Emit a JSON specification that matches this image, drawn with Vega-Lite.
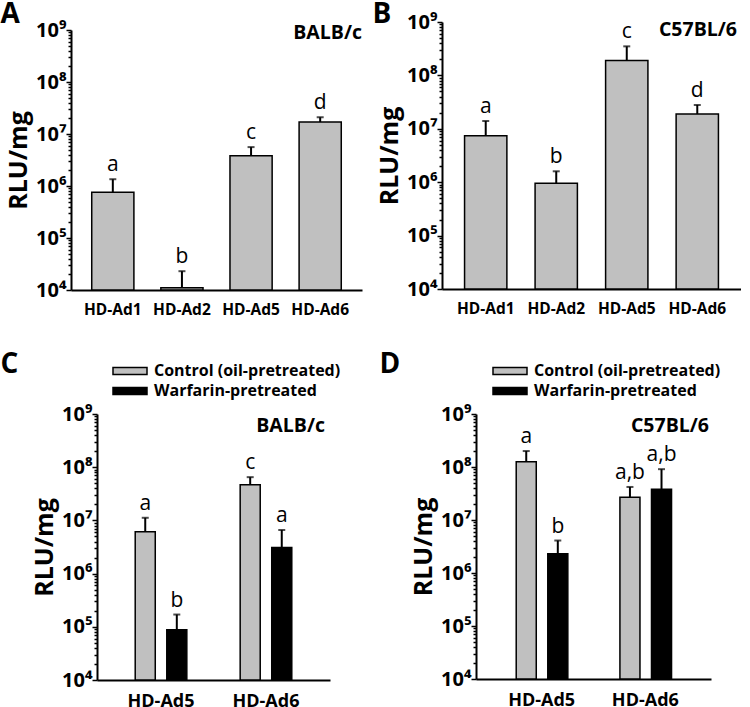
{
  "$schema": "https://vega.github.io/schema/vega-lite/v6.json",
  "padding": {"top": 1, "left": 0, "right": 0, "bottom": 0},
  "background": "white",
  "config": {
    "font": "Open Sans",
    "view": {"stroke": null},
    "axis": {"domainColor": "black", "domainWidth": 2, "tickColor": "black", "tickWidth": 1.5, "labelColor": "black", "titleColor": "black", "grid": false, "labelFlush": false},
    "title": {"color": "black"},
    "legend": {"labelColor": "black"}
  },
  "resolve": {"legend": {"color": "independent"}, "scale": {"color": "independent"}},
  "columns": 2,
  "align": "each",
  "spacing": {"row": 33, "column": 10},
  "concat": [
    {
      "width": 291, "height": 268,
      "title": {"text": "A", "anchor": "start", "frame": "bounds", "fontSize": 28, "fontWeight": "bold", "offset": -9, "dx": -6},
      "data": {"values": [
        {"vector": "HD-Ad1", "mean": 760000, "upper": 1350000, "letter": "a"},
        {"vector": "HD-Ad2", "mean": 11000, "upper": 23000, "letter": "b"},
        {"vector": "HD-Ad5", "mean": 3800000, "upper": 5600000, "letter": "c"},
        {"vector": "HD-Ad6", "mean": 17000000, "upper": 21000000, "letter": "d"}
      ]},
      "encoding": {
        "x": {"field": "vector", "type": "nominal", "sort": null, "scale": {"paddingInner": 0.39, "paddingOuter": 0.3},
              "axis": {"title": null, "labelAngle": 0, "ticks": false, "labelFontSize": 15.5, "labelFontWeight": "bold", "labelPadding": 12}}
      },
      "layer": [
        {"mark": {"type": "bar", "fill": "#c0c0c0", "stroke": "black", "strokeWidth": 1.5},
         "encoding": {
           "y": {"field": "mean", "type": "quantitative", "scale": {"type": "log", "domain": [10000, 1000000000], "nice": false, "range": [268, 8]},
                 "axis": {"title": "RLU/mg", "titleFontSize": 25, "titleFontWeight": "bold", "titlePadding": 4,
                          "values": [10000,20000,30000,40000,50000,60000,70000,80000,90000,100000,200000,300000,400000,500000,600000,700000,800000,900000,1000000,2000000,3000000,4000000,5000000,6000000,7000000,8000000,9000000,10000000,20000000,30000000,40000000,50000000,60000000,70000000,80000000,90000000,100000000,200000000,300000000,400000000,500000000,600000000,700000000,800000000,900000000,1000000000],
                          "tickSize": {"condition": {"test": "abs(log(datum.value)/LN10 - round(log(datum.value)/LN10)) < 0.000001", "value": 5}, "value": 3},
                          "labelExpr": "abs(log(datum.value)/LN10 - round(log(datum.value)/LN10)) < 0.000001 ? '10' + ['⁰','¹','²','³','⁴','⁵','⁶','⁷','⁸','⁹'][round(log(datum.value)/LN10)] : ''",
                          "labelFontSize": 20, "labelFontWeight": "bold", "labelPadding": 0, "labelOverlap": false}},
           "y2": {"datum": 10000}
         }},
        {"mark": {"type": "rule", "strokeWidth": 2, "color": "black"},
         "encoding": {"y": {"field": "mean", "type": "quantitative"}, "y2": {"field": "upper"}}},
        {"mark": {"type": "tick", "color": "black", "size": 7, "thickness": 2},
         "encoding": {"y": {"field": "upper", "type": "quantitative"}}},
        {"mark": {"type": "text", "baseline": "bottom", "dy": -4, "fontSize": 21, "color": "black"},
         "encoding": {"y": {"field": "upper", "type": "quantitative"}, "text": {"field": "letter"}}},
        {"data": {"values": [{"s": "BALB/c"}]},
         "mark": {"type": "text", "align": "right", "baseline": "middle", "fontSize": 19.5, "fontWeight": "bold", "color": "black"},
         "encoding": {"x": {"value": "width"}, "y": {"datum": 880000000}, "text": {"field": "s"}}}
      ]
    },
    {
      "width": 299, "height": 267,
      "title": {"text": "B", "anchor": "start", "frame": "bounds", "fontSize": 28, "fontWeight": "bold", "offset": -17, "dx": -5},
      "data": {"values": [
        {"vector": "HD-Ad1", "mean": 7400000, "upper": 14000000, "letter": "a"},
        {"vector": "HD-Ad2", "mean": 960000, "upper": 1600000, "letter": "b"},
        {"vector": "HD-Ad5", "mean": 190000000, "upper": 350000000, "letter": "c"},
        {"vector": "HD-Ad6", "mean": 19000000, "upper": 28000000, "letter": "d"}
      ]},
      "encoding": {
        "x": {"field": "vector", "type": "nominal", "sort": null, "scale": {"paddingInner": 0.4, "paddingOuter": 0.32},
              "axis": {"title": null, "labelAngle": 0, "ticks": false, "labelFontSize": 15.5, "labelFontWeight": "bold", "labelPadding": 12}}
      },
      "layer": [
        {"mark": {"type": "bar", "fill": "#c0c0c0", "stroke": "black", "strokeWidth": 1.5},
         "encoding": {
           "y": {"field": "mean", "type": "quantitative", "scale": {"type": "log", "domain": [10000, 1000000000], "nice": false},
                 "axis": {"title": "RLU/mg", "titleFontSize": 25, "titleFontWeight": "bold", "titlePadding": 4,
                          "values": [10000,20000,30000,40000,50000,60000,70000,80000,90000,100000,200000,300000,400000,500000,600000,700000,800000,900000,1000000,2000000,3000000,4000000,5000000,6000000,7000000,8000000,9000000,10000000,20000000,30000000,40000000,50000000,60000000,70000000,80000000,90000000,100000000,200000000,300000000,400000000,500000000,600000000,700000000,800000000,900000000,1000000000],
                          "tickSize": {"condition": {"test": "abs(log(datum.value)/LN10 - round(log(datum.value)/LN10)) < 0.000001", "value": 5}, "value": 3},
                          "labelExpr": "abs(log(datum.value)/LN10 - round(log(datum.value)/LN10)) < 0.000001 ? '10' + ['⁰','¹','²','³','⁴','⁵','⁶','⁷','⁸','⁹'][round(log(datum.value)/LN10)] : ''",
                          "labelFontSize": 20, "labelFontWeight": "bold", "labelPadding": 0, "labelOverlap": false}},
           "y2": {"datum": 10000}
         }},
        {"mark": {"type": "rule", "strokeWidth": 2, "color": "black"},
         "encoding": {"y": {"field": "mean", "type": "quantitative"}, "y2": {"field": "upper"}}},
        {"mark": {"type": "tick", "color": "black", "size": 7, "thickness": 2},
         "encoding": {"y": {"field": "upper", "type": "quantitative"}}},
        {"mark": {"type": "text", "baseline": "bottom", "dy": -4, "fontSize": 21, "color": "black"},
         "encoding": {"y": {"field": "upper", "type": "quantitative"}, "text": {"field": "letter"}}},
        {"data": {"values": [{"s": "C57BL/6"}]},
         "mark": {"type": "text", "align": "right", "baseline": "middle", "fontSize": 19.5, "fontWeight": "bold", "color": "black", "dx": -4},
         "encoding": {"x": {"value": "width"}, "y": {"datum": 710000000}, "text": {"field": "s"}}}
      ]
    },
    {
      "width": 259, "height": 266,
      "title": {"text": "C", "anchor": "start", "frame": "bounds", "fontSize": 28, "fontWeight": "bold", "offset": -16, "dx": -32},
      "data": {"values": [
        {"vector": "HD-Ad5", "treatment": "Control (oil-pretreated)", "mean": 6100000, "upper": 11200000, "letter": "a"},
        {"vector": "HD-Ad5", "treatment": "Warfarin-pretreated", "mean": 88000, "upper": 170000, "letter": "b"},
        {"vector": "HD-Ad6", "treatment": "Control (oil-pretreated)", "mean": 47000000, "upper": 65000000, "letter": "c"},
        {"vector": "HD-Ad6", "treatment": "Warfarin-pretreated", "mean": 3100000, "upper": 6600000, "letter": "a"}
      ]},
      "encoding": {
        "x": {"field": "vector", "type": "nominal", "sort": null, "scale": {"paddingInner": 0.4, "paddingOuter": 0.31, "range": [26, 259]},
              "axis": {"title": null, "labelAngle": 0, "ticks": false, "labelFontSize": 18, "labelFontWeight": "bold", "labelPadding": 12}}
      },
      "layer": [
        {"mark": {"type": "bar", "stroke": "black", "strokeWidth": 1.5},
         "encoding": {
           "xOffset": {"field": "treatment", "type": "nominal", "sort": null, "scale": {"paddingInner": 0.365, "paddingOuter": 0.18}},
           "color": {"field": "treatment", "type": "nominal", "scale": {"domain": ["Control (oil-pretreated)", "Warfarin-pretreated"], "range": ["#c0c0c0", "#000000"]},
                     "legend": {"orient": "none", "legendX": 51, "legendY": -51, "title": null, "symbolType": "M-3.4,-0.7H3.4V0.7H-3.4Z", "symbolSize": 100, "symbolStrokeColor": "black", "symbolStrokeWidth": 1.5, "symbolOpacity": 1, "labelFontSize": 16, "labelFontWeight": "bold", "labelOffset": 16, "labelLimit": 300, "rowPadding": 4}},
           "y": {"field": "mean", "type": "quantitative", "scale": {"type": "log", "domain": [10000, 1000000000], "nice": false},
                 "axis": {"title": "RLU/mg", "titleFontSize": 25, "titleFontWeight": "bold", "titlePadding": 4, "offset": -26,
                          "values": [10000,20000,30000,40000,50000,60000,70000,80000,90000,100000,200000,300000,400000,500000,600000,700000,800000,900000,1000000,2000000,3000000,4000000,5000000,6000000,7000000,8000000,9000000,10000000,20000000,30000000,40000000,50000000,60000000,70000000,80000000,90000000,100000000,200000000,300000000,400000000,500000000,600000000,700000000,800000000,900000000,1000000000],
                          "tickSize": {"condition": {"test": "abs(log(datum.value)/LN10 - round(log(datum.value)/LN10)) < 0.000001", "value": 5}, "value": 3},
                          "labelExpr": "abs(log(datum.value)/LN10 - round(log(datum.value)/LN10)) < 0.000001 ? '10' + ['⁰','¹','²','³','⁴','⁵','⁶','⁷','⁸','⁹'][round(log(datum.value)/LN10)] : ''",
                          "labelFontSize": 20, "labelFontWeight": "bold", "labelPadding": 0, "labelOverlap": false}},
           "y2": {"datum": 10000}
         }},
        {"mark": {"type": "rule", "strokeWidth": 2, "color": "black"},
         "encoding": {"xOffset": {"field": "treatment", "type": "nominal", "sort": null}, "y": {"field": "mean", "type": "quantitative"}, "y2": {"field": "upper"}}},
        {"mark": {"type": "tick", "color": "black", "size": 7, "thickness": 2},
         "encoding": {"xOffset": {"field": "treatment", "type": "nominal", "sort": null}, "y": {"field": "upper", "type": "quantitative"}}},
        {"mark": {"type": "text", "baseline": "bottom", "dy": -4, "fontSize": 21, "color": "black"},
         "encoding": {"xOffset": {"field": "treatment", "type": "nominal", "sort": null}, "y": {"field": "upper", "type": "quantitative"}, "text": {"field": "letter"}}},
        {"data": {"values": [{"s": "BALB/c"}]},
         "mark": {"type": "text", "align": "right", "baseline": "middle", "fontSize": 19.5, "fontWeight": "bold", "color": "black", "dx": -5},
         "encoding": {"x": {"value": "width"}, "y": {"datum": 590000000}, "text": {"field": "s"}}}
      ]
    },
    {
      "width": 269, "height": 265,
      "title": {"text": "D", "anchor": "start", "frame": "bounds", "fontSize": 28, "fontWeight": "bold", "offset": -16, "dx": -32},
      "data": {"values": [
        {"vector": "HD-Ad5", "treatment": "Control (oil-pretreated)", "mean": 126000000, "upper": 200000000, "letter": "a"},
        {"vector": "HD-Ad5", "treatment": "Warfarin-pretreated", "mean": 2300000, "upper": 4100000, "letter": "b"},
        {"vector": "HD-Ad6", "treatment": "Control (oil-pretreated)", "mean": 27000000, "upper": 42000000, "letter": "a,b"},
        {"vector": "HD-Ad6", "treatment": "Warfarin-pretreated", "mean": 38000000, "upper": 91000000, "letter": "a,b"}
      ]},
      "encoding": {
        "x": {"field": "vector", "type": "nominal", "sort": null, "scale": {"paddingInner": 0.4, "paddingOuter": 0.333, "range": [34, 269]},
              "axis": {"title": null, "labelAngle": 0, "ticks": false, "labelFontSize": 18, "labelFontWeight": "bold", "labelPadding": 12}}
      },
      "layer": [
        {"mark": {"type": "bar", "stroke": "black", "strokeWidth": 1.5},
         "encoding": {
           "xOffset": {"field": "treatment", "type": "nominal", "sort": null, "scale": {"paddingInner": 0.365, "paddingOuter": 0.18}},
           "color": {"field": "treatment", "type": "nominal", "scale": {"domain": ["Control (oil-pretreated)", "Warfarin-pretreated"], "range": ["#c0c0c0", "#000000"]},
                     "legend": {"orient": "none", "legendX": 60, "legendY": -51, "title": null, "symbolType": "M-3.4,-0.7H3.4V0.7H-3.4Z", "symbolSize": 100, "symbolStrokeColor": "black", "symbolStrokeWidth": 1.5, "symbolOpacity": 1, "labelFontSize": 16, "labelFontWeight": "bold", "labelOffset": 16, "labelLimit": 300, "rowPadding": 4}},
           "y": {"field": "mean", "type": "quantitative", "scale": {"type": "log", "domain": [10000, 1000000000], "nice": false},
                 "axis": {"title": "RLU/mg", "titleFontSize": 25, "titleFontWeight": "bold", "titlePadding": 4, "offset": -34,
                          "values": [10000,20000,30000,40000,50000,60000,70000,80000,90000,100000,200000,300000,400000,500000,600000,700000,800000,900000,1000000,2000000,3000000,4000000,5000000,6000000,7000000,8000000,9000000,10000000,20000000,30000000,40000000,50000000,60000000,70000000,80000000,90000000,100000000,200000000,300000000,400000000,500000000,600000000,700000000,800000000,900000000,1000000000],
                          "tickSize": {"condition": {"test": "abs(log(datum.value)/LN10 - round(log(datum.value)/LN10)) < 0.000001", "value": 5}, "value": 3},
                          "labelExpr": "abs(log(datum.value)/LN10 - round(log(datum.value)/LN10)) < 0.000001 ? '10' + ['⁰','¹','²','³','⁴','⁵','⁶','⁷','⁸','⁹'][round(log(datum.value)/LN10)] : ''",
                          "labelFontSize": 20, "labelFontWeight": "bold", "labelPadding": 0, "labelOverlap": false}},
           "y2": {"datum": 10000}
         }},
        {"mark": {"type": "rule", "strokeWidth": 2, "color": "black"},
         "encoding": {"xOffset": {"field": "treatment", "type": "nominal", "sort": null}, "y": {"field": "mean", "type": "quantitative"}, "y2": {"field": "upper"}}},
        {"mark": {"type": "tick", "color": "black", "size": 7, "thickness": 2},
         "encoding": {"xOffset": {"field": "treatment", "type": "nominal", "sort": null}, "y": {"field": "upper", "type": "quantitative"}}},
        {"mark": {"type": "text", "baseline": "bottom", "dy": -4, "fontSize": 21, "color": "black"},
         "encoding": {"xOffset": {"field": "treatment", "type": "nominal", "sort": null}, "y": {"field": "upper", "type": "quantitative"}, "text": {"field": "letter"}}},
        {"data": {"values": [{"s": "C57BL/6"}]},
         "mark": {"type": "text", "align": "right", "baseline": "middle", "fontSize": 19.5, "fontWeight": "bold", "color": "black", "dx": -2},
         "encoding": {"x": {"value": "width"}, "y": {"datum": 590000000}, "text": {"field": "s"}}}
      ]
    }
  ]
}
